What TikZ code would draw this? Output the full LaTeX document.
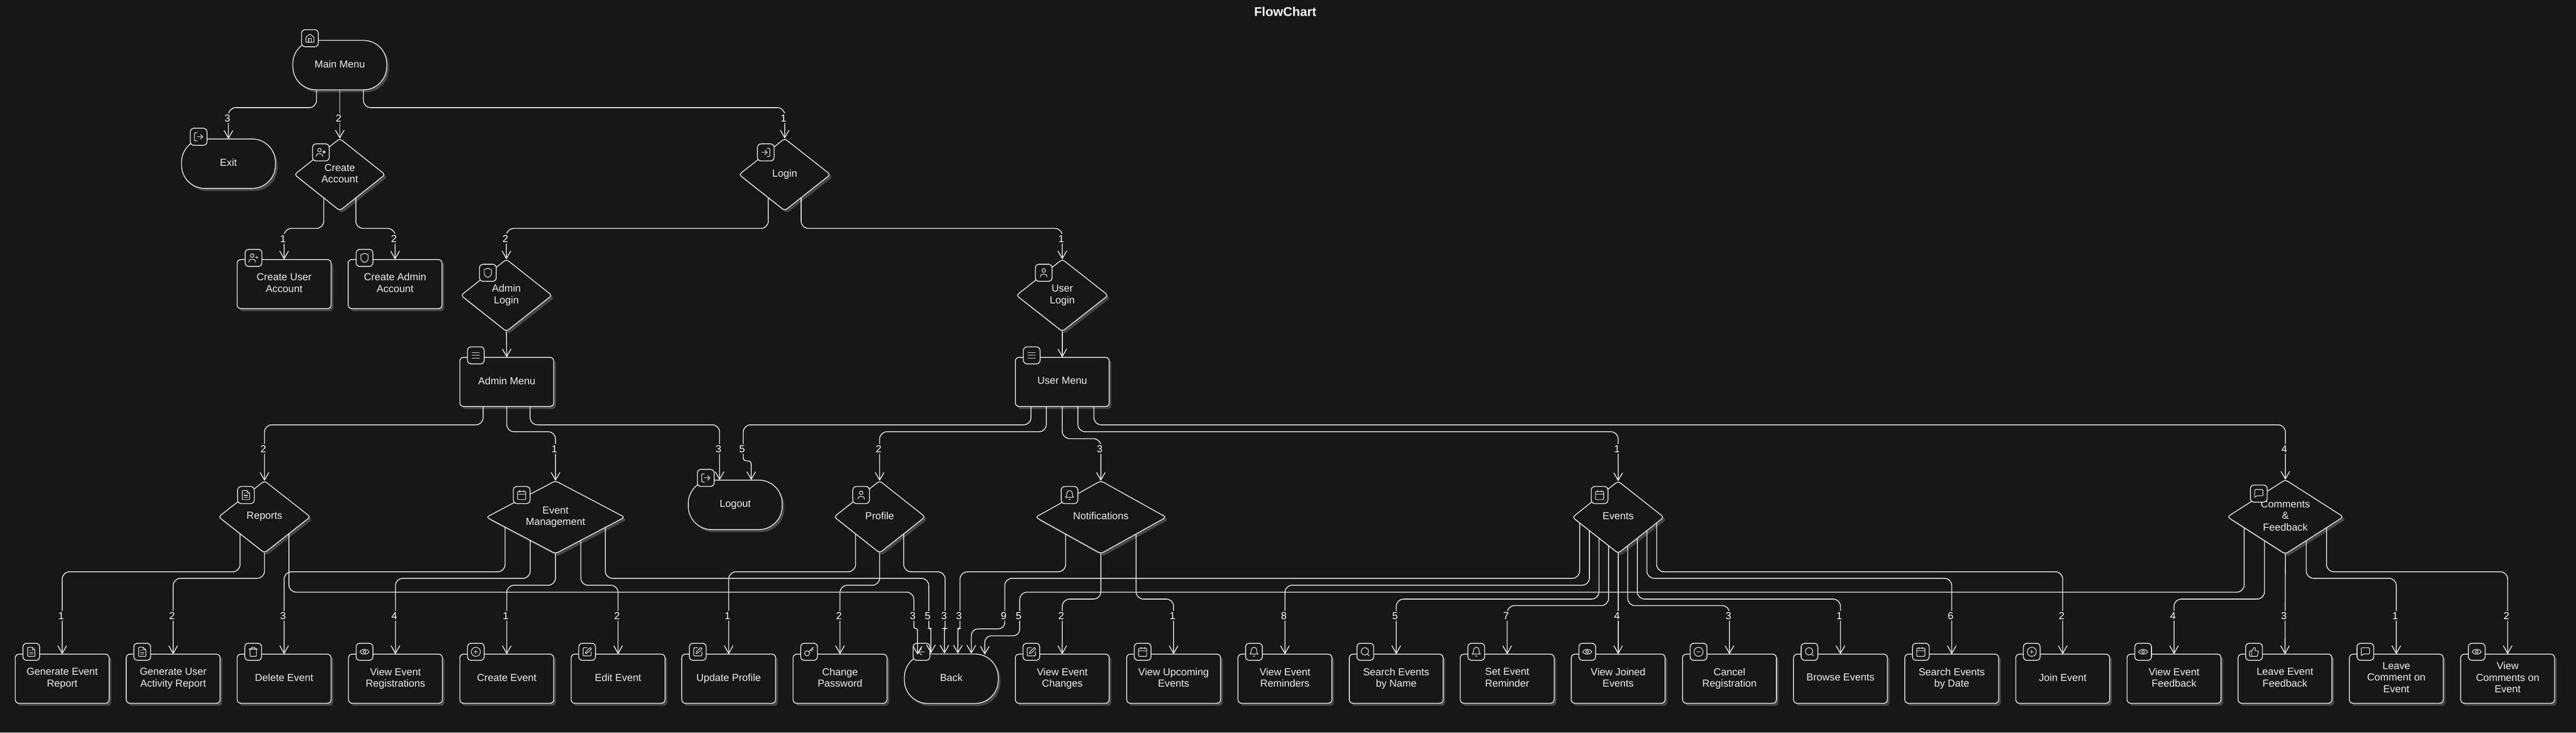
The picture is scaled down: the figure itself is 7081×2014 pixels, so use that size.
\documentclass[tikz,border=0pt]{standalone}
\usepackage{fontspec}
\setmainfont{Liberation Sans}
\usetikzlibrary{arrows.meta,calc,shapes.geometric,shadows}
\definecolor{bgc}{HTML}{171717}
\definecolor{inkc}{HTML}{EDEDED}
\definecolor{shc}{HTML}{474747}
\tikzset{
  base/.style={draw=inkc,fill=bgc,line width=2.2pt,text=inkc,align=center,inner sep=0pt,outer sep=0pt,
    font=\fontsize{28}{32}\selectfont,text depth=7pt,
    general shadow={shadow xshift=6pt,shadow yshift=-7pt,fill=shc,draw=none}},
  boxnode/.style={base,rectangle,rounded corners=10pt,minimum width=258pt,minimum height=135pt},
  termnode/.style={base,rectangle,rounded corners=64pt,minimum width=258pt,minimum height=136pt},
  dianode/.style n args={2}{base,diamond,rounded corners=7pt,/utils/exec={\pgfmathsetmacro\dasp{#1/#2}},aspect=\dasp,minimum width=#1pt+7pt,minimum height=#2pt+6pt},
  iconbox/.style={draw=inkc,fill=bgc,line width=2.2pt,rectangle,rounded corners=10pt,minimum width=46pt,minimum height=47pt,inner sep=0pt},
  glyphline/.style={draw=inkc,line width=1.7pt,line cap=round,line join=round},
  conn/.style={draw=white!95!black,line width=2.2pt,rounded corners=20pt,-{Straight Barb[length=21pt,width=24pt]}},
  connplain/.style={draw=white!95!black,line width=2.2pt,rounded corners=20pt},
  lbl/.style={fill=bgc,text=white,font=\fontsize{28}{32}\selectfont,inner xsep=2pt,inner ysep=4pt},
}
% glyphs, 24 x 24, y downwards
\newcommand{\ghouse}{\draw[rounded corners=1.5pt] (3,10)--(12,3)--(21,10)--(21,21)--(3,21)--cycle;\draw (9,21)--(9,12)--(15,12)--(15,21);}
\newcommand{\gout}{\draw[rounded corners=2pt] (9,21)--(3,21)--(3,3)--(9,3);\draw (9,12)--(21,12);\draw (16,7)--(21,12)--(16,17);}
\newcommand{\gin}{\draw[rounded corners=2pt] (15,3)--(21,3)--(21,21)--(15,21);\draw (3,12)--(15,12);\draw (10,7)--(15,12)--(10,17);}
\newcommand{\guserplus}{\draw (9,7) circle (4);\draw (2,21)--(2,19) .. controls (2,16) and (5,15) .. (9,15) .. controls (13,15) and (16,16) .. (16,19)--(16,21);\draw (19,8)--(19,14);\draw (16,11)--(22,11);}
\newcommand{\guser}{\draw (12,7) circle (4);\draw (5,21)--(5,19) .. controls (5,16) and (8,15) .. (12,15) .. controls (16,15) and (19,16) .. (19,19)--(19,21);}
\newcommand{\gshield}{\draw (12,22) .. controls (16,21) and (20,18) .. (20,13)--(20,5)--(12,2)--(4,5)--(4,13) .. controls (4,18) and (8,21) .. (12,22)--cycle;}
\newcommand{\gmenu}{\draw (4,6)--(20,6);\draw (4,12)--(20,12);\draw (4,18)--(20,18);}
\newcommand{\gfile}{\draw[rounded corners=1.5pt] (4,2)--(14,2)--(20,8)--(20,22)--(4,22)--cycle;\draw (14,2)--(14,8)--(20,8);\draw (8,13)--(16,13);\draw (8,17)--(16,17);\draw (8,9)--(10,9);}
\newcommand{\gcal}{\draw[rounded corners=2pt] (3,4) rectangle (21,22);\draw (16,2)--(16,6);\draw (8,2)--(8,6);\draw (3,10)--(21,10);}
\newcommand{\gbell}{\draw (6,8) .. controls (6,4.7) and (8.7,2) .. (12,2) .. controls (15.3,2) and (18,4.7) .. (18,8) .. controls (18,13) and (19,16) .. (21,17)--(3,17) .. controls (5,16) and (6,13) .. (6,8)--cycle;\draw (10.3,21) .. controls (11,22.3) and (13,22.3) .. (13.7,21);}
\newcommand{\gtrash}{\draw (3,6)--(21,6);\draw[rounded corners=1.5pt] (5,6)--(5,22)--(19,22)--(19,6);\draw[rounded corners=1.5pt] (8,6)--(8,2)--(16,2)--(16,6);}
\newcommand{\geye}{\draw (2,12) .. controls (6,5) and (18,5) .. (22,12) .. controls (18,19) and (6,19) .. (2,12)--cycle;\draw (12,12) circle (3);}
\newcommand{\gplus}{\draw (12,12) circle (10);\draw (8,12)--(16,12);\draw (12,8)--(12,16);}
\newcommand{\gminus}{\draw (12,12) circle (10);\draw (8,12)--(16,12);}
\newcommand{\gpen}{\draw[rounded corners=2pt] (12,3)--(3,3)--(3,21)--(21,21)--(21,12);\draw (18.4,2.6)--(21.4,5.6)--(12.5,14.5)--(8,16)--(9.5,11.5)--cycle;}
\newcommand{\gkey}{\draw (7.5,15.5) circle (5.5);\draw (11.5,11.5)--(21,2);\draw (15.5,7.5)--(18.5,10.5);\draw (18,5)--(21,8);}
\newcommand{\gback}{\draw (19,12)--(5,12);\draw (12,19)--(5,12)--(12,5);}
\newcommand{\gsearch}{\draw (11,11) circle (8);\draw (21,21)--(16.7,16.7);}
\newcommand{\gthumb}{\draw (7,10)--(7,22);\draw[rounded corners=1.5pt] (2,10)--(7,10)--(12,2)--(15,4)--(14,10)--(22,10)--(19,22)--(2,22)--cycle;}
\newcommand{\gmsg}{\draw[rounded corners=2pt] (3,3)--(21,3)--(21,17)--(7,17)--(3,21)--cycle;}
% icon: name, x, y, glyph
\newcommand{\icon}[4]{%
  \node[iconbox] (#1) at (#2,#3) {};
  \begin{scope}[shift={(#2-15,#3-15)},scale=1.25,glyphline] #4 \end{scope}}
% bottom row box: name, x, text, glyph
\newcommand{\bx}[4]{%
  \node[boxnode] (#1) at (#2,1866) {#3};
  \icon{ic#1}{#2-85}{1792}{#4}}
\newcount\lblc
\newcommand{\elabel}[3]{%
  \global\advance\lblc by 1
  \node[lbl] (lab\the\lblc) at ($(#1 |- 0,#2)+(-3,0)$) {#3};}
% route: start calc, level y, end coordinate, label y, label
\newcommand{\route}[5]{%
  \coordinate (rs) at ($#1$);
  \coordinate (re) at #3;
  \draw[conn] (rs) -- (rs |- 0,#2) -- (re |- 0,#2) -- (re);
  \elabel{re}{#4}{#5}}
% straight: start calc, end coordinate, label y, label
\newcommand{\straight}[4]{%
  \coordinate (rs) at ($#1$);
  \coordinate (re) at #2;
  \draw[conn] (rs) -- (re);
  \elabel{re}{#3}{#4}}
% jog: start calc, level y, x of the long run, jog y, end coordinate, jog radius, label y, label
\newcommand{\jog}[8]{%
  \coordinate (rs) at ($#1$);
  \coordinate (re) at #5;
  \coordinate (rm) at (#3,#2);
  \draw[connplain] (rs) -- (rs |- 0,#2) -- (rm) -- (#3,#4-22);
  \draw[conn,rounded corners=#6pt] (#3,#4-22) -- (#3,#4) -- (re |- 0,#4) -- (re);
  \elabel{rm}{#7}{#8}}
\begin{document}
\begin{tikzpicture}[x=1pt,y=-1pt]
\fill[bgc] (0,0) rectangle (7081,2014);
\useasboundingbox (0,0) rectangle (7081,2014);
\node[text=white,font=\fontsize{35}{40}\selectfont\bfseries] (title) at (3533,32) {FlowChart};
% upper nodes
\node[termnode] (main) at (934,179) {Main Menu};
\icon{icmain}{852}{105}{\ghouse}
\node[termnode] (exit) at (628,450) {Exit};
\icon{icexit}{546}{376}{\gout}
\node[dianode={242}{192}] (cacc) at (934,480) {Create\\Account};
\icon{iccacc}{882}{419}{\guserplus}
\node[dianode={244}{192}] (login) at (2157,480) {Login};
\icon{iclogin}{2105}{419}{\gin}
\node[boxnode] (cuser) at (781,781) {Create User\\Account};
\icon{iccuser}{697}{709}{\guserplus}
\node[boxnode] (cadmin) at (1086,781) {Create Admin\\Account};
\icon{iccadmin}{1002}{709}{\gshield}
\node[dianode={243}{192}] (alogin) at (1392,812) {Admin\\Login};
\icon{icalogin}{1341}{750}{\gshield}
\node[dianode={245}{192}] (ulogin) at (2920,812) {User\\Login};
\icon{iculogin}{2869}{750}{\guser}
\node[boxnode] (amenu) at (1393,1050) {Admin Menu};
\icon{icamenu}{1308}{977}{\gmenu}
\node[boxnode] (umenu) at (2920,1050) {User Menu};
\icon{icumenu}{2836}{977}{\gmenu}
% middle row
\node[dianode={245}{192}] (reports) at (727,1421) {Reports};
\icon{icreports}{676}{1361}{\gfile}
\node[dianode={373}{194}] (emgmt) at (1527,1422) {Event\\Management};
\icon{icemgmt}{1434}{1361}{\gcal}
\node[termnode] (logout) at (2021,1388) {Logout};
\icon{iclogout}{1940}{1314}{\gout}
\node[dianode={243}{192}] (profile) at (2418,1421) {Profile};
\icon{icprofile}{2367}{1361}{\guser}
\node[dianode={352}{194}] (notif) at (3026,1422) {Notifications};
\icon{icnotif}{2940}{1361}{\gbell}
\node[dianode={244}{192}] (events) at (4448,1422) {Events};
\icon{icevents}{4397}{1361}{\gcal}
\node[dianode={312}{198}] (comm) at (6282,1421) {Comments\\\&\\Feedback};
\icon{iccomm}{6209}{1357}{\gmsg}
% bottom row
\bx{genev}{171}{Generate Event\\Report}{\gfile}
\bx{genus}{476}{Generate User\\Activity Report}{\gfile}
\bx{delev}{781}{Delete Event}{\gtrash}
\bx{vreg}{1087}{View Event\\Registrations}{\geye}
\bx{crev}{1393}{Create Event}{\gplus}
\bx{edev}{1699}{Edit Event}{\gpen}
\bx{upd}{2003}{Update Profile}{\gpen}
\bx{chpw}{2309}{Change\\Password}{\gkey}
\node[termnode] (back) at (2615,1866) {Back};
\icon{icback}{2533}{1792}{\gback}
\bx{vchg}{2920}{View Event\\Changes}{\gpen}
\bx{vupc}{3226}{View Upcoming\\Events}{\gcal}
\bx{vrem}{3532}{View Event\\Reminders}{\gbell}
\bx{sname}{3838}{Search Events\\by Name}{\gsearch}
\bx{srem}{4143}{Set Event\\Reminder}{\gbell}
\bx{vjoin}{4448}{View Joined\\Events}{\geye}
\bx{canc}{4754}{Cancel\\Registration}{\gminus}
\bx{brow}{5059}{Browse Events}{\gsearch}
\bx{sdate}{5365}{Search Events\\by Date}{\gcal}
\bx{join}{5670}{Join Event}{\gplus}
\bx{vfb}{5976}{View Event\\Feedback}{\geye}
\bx{lfb}{6281}{Leave Event\\Feedback}{\gthumb}
\bx{lcom}{6587}{Leave\\Comment on\\Event}{\gmsg}
\bx{vcom}{6893}{View\\Comments on\\Event}{\geye}
% connectors: upper part
\route{(main.south)+(-64,0)}{296}{(exit.north)}{325}{3}
\straight{(main.south)}{(cacc.north)}{325}{2}
\route{(main.south)+(65,0)}{296}{(login.north)}{325}{1}
\route{(cacc.south)!.355!(cacc.west)}{628}{(cuser.north)}{656}{1}
\route{(cacc.south)!.355!(cacc.east)}{628}{(cadmin.north)}{656}{2}
\route{(login.south)!.36!(login.west)}{628}{(alogin.north)}{656}{2}
\route{(login.south)!.36!(login.east)}{628}{(ulogin.north)}{656}{1}
\draw[conn] (alogin.south) -- (amenu.north);
\draw[conn] (ulogin.south) -- (umenu.north);
% Admin Menu
\route{(amenu.south)+(-65,0)}{1168}{(reports.north)}{1234}{2}
\route{(amenu.south)}{1187}{(emgmt.north)}{1234}{1}
\route{(amenu.south)+(64,0)}{1168}{($(logout.north)+(-43,0)$)}{1234}{3}
% User Menu
\jog{(umenu.south)+(-86,0)}{1168}{2043}{1267}{($(logout.north)+(44,0)$)}{8}{1234}{5}
\route{(umenu.south)+(-44,0)}{1187}{(profile.north)}{1234}{2}
\route{(umenu.south)}{1206}{(notif.north)}{1234}{3}
\route{(umenu.south)+(43,0)}{1187}{(events.north)}{1234}{1}
\route{(umenu.south)+(87,0)}{1168}{(comm.north)}{1234}{4}
% Reports
\route{(reports.south)!.533!(reports.west)}{1572}{(genev.north)}{1693}{1}
\route{(reports.south)}{1590}{(genus.north)}{1693}{2}
\jog{(reports.south)!.533!(reports.east)}{1628}{2512}{1728}{($(back.north)+(-93,2)$)}{5}{1693}{3}
% Event Management
\route{(emgmt.south)!.73!(emgmt.west)}{1572}{(delev.north)}{1693}{3}
\route{(emgmt.south)!.366!(emgmt.west)}{1590}{(vreg.north)}{1693}{4}
\route{(emgmt.south)}{1609}{(crev.north)}{1693}{1}
\route{(emgmt.south)!.366!(emgmt.east)}{1609}{(edev.north)}{1693}{2}
\jog{(emgmt.south)!.72!(emgmt.east)}{1590}{2553}{1728}{($(back.north)+(-56,-2)$)}{5}{1693}{5}
% Profile
\route{(profile.south)!.53!(profile.west)}{1572}{(upd.north)}{1693}{1}
\route{(profile.south)}{1609}{(chpw.north)}{1693}{2}
\jog{(profile.south)!.53!(profile.east)}{1572}{2598}{1728}{($(back.north)+(-19,-1)$)}{5}{1693}{3}
% Notifications
\jog{(notif.south)!.54!(notif.west)}{1572}{2639}{1728}{($(back.north)+(18,-1)$)}{5}{1693}{3}
\route{(notif.south)}{1647}{(vchg.north)}{1693}{2}
\route{(notif.south)!.54!(notif.east)}{1647}{(vupc.north)}{1693}{1}
% Events
\jog{(events.south)!.844!(events.west)}{1590}{2762}{1729}{($(back.north)+(55,-1)$)}{18}{1693}{9}
\route{(events.south)!.63!(events.west)}{1609}{(vrem.north)}{1693}{8}
\route{(events.south)!.42!(events.west)}{1647}{(sname.north)}{1693}{5}
\route{(events.south)!.21!(events.west)}{1665}{(srem.north)}{1693}{7}
\straight{(events.south)}{(vjoin.north)}{1693}{4}
\route{(events.south)!.21!(events.east)}{1665}{(canc.north)}{1693}{3}
\route{(events.south)!.42!(events.east)}{1647}{(brow.north)}{1693}{1}
\route{(events.south)!.63!(events.east)}{1590}{(sdate.north)}{1693}{6}
\route{(events.south)!.844!(events.east)}{1572}{(join.north)}{1693}{2}
% Comments
\jog{(comm.south)!.71!(comm.west)}{1628}{2803}{1748}{($(back.north)+(92,2)$)}{18}{1693}{5}
\route{(comm.south)!.36!(comm.west)}{1647}{(vfb.north)}{1693}{4}
\straight{(comm.south)}{(lfb.north)}{1693}{3}
\route{(comm.south)!.36!(comm.east)}{1590}{(lcom.north)}{1693}{1}
\route{(comm.south)!.71!(comm.east)}{1572}{(vcom.north)}{1693}{2}
\end{tikzpicture}
\end{document}
